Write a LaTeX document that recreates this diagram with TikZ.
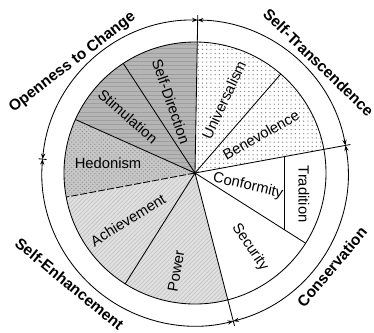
\documentclass[tikz,border=0pt]{standalone}
\usepackage{fontspec}
\setmainfont{Liberation Sans}
\usetikzlibrary{arrows.meta,patterns}

\begin{document}
\begin{tikzpicture}[x=0.025cm, y=0.025cm,
    value/.style={font=\fontsize{10.5}{12}\selectfont, inner sep=0pt},
    higher/.style={font=\bfseries\fontsize{11}{13}\selectfont, inner sep=0pt},
    divider/.style={line width=0.6pt},
    ring/.style={line width=0.6pt, {Stealth[length=4pt,width=3pt]}-{Stealth[length=4pt,width=3pt]}},
    stripes/.style={preaction={fill=black!29}, pattern=horizontal lines, pattern color=black!38},
    speckle/.style={preaction={fill=black!22}, pattern=crosshatch dots, pattern color=black!42},
    hatch/.style={preaction={fill=black!12}, pattern=north east lines, pattern color=black!24},
    dotfill/.style={pattern=dots, pattern color=black!48},
    blank/.style={}]
    \useasboundingbox (-195,-159) rectangle (179,173);

    % sectors of the inner circle
    \foreach \a/\b/\s in {49.1/89/dotfill, 10.4/49.1/dotfill, -32.4/10.4/blank,
                          -75.5/-32.4/blank, -122.2/-75.5/hatch, 190.6/237.8/hatch,
                          155.9/190.6/speckle, 123.2/155.9/stripes, 89/123.2/stripes}
        \path[\s] (0,0) -- (\a:131) arc[start angle=\a, end angle=\b, radius=131] -- cycle;

    % boundaries
    \foreach \a in {49.1, -32.4, 237.8, 155.9, 123.2}
        \draw[divider] (0,0) -- (\a:131);
    \foreach \a in {89, 10.4, -75.5}
        \draw[divider] (0,0) -- (\a:158);
    \draw[divider, dash pattern=on 5pt off 1.5pt] (0,0) -- (190.6:131);
    \draw[divider] (89,16.3) -- (89,-56.5);
    \draw[divider] (0,0) circle[radius=131];
    \fill (0,0) circle[radius=1.5];

    % outer ring
    \draw[ring] (10.4:153) arc[start angle=10.4, end angle=89, radius=153];
    \draw[ring] (89:153) arc[start angle=89, end angle=174.8, radius=153];
    \draw[ring] (174.8:153) arc[start angle=174.8, end angle=284.5, radius=153];
    \draw[ring] (-75.5:153) arc[start angle=-75.5, end angle=10.4, radius=153];
    \draw[divider] (174.8:149) -- (174.8:157);

    % values
    \node[value, rotate=-71] (selfdir) at (-24,71.5) {Self-Direction};
    \node[value, rotate=-41] (stim) at (-67,56.5) {Stimulation};
    \node[value] (hedon) at (-87,10) {Hedonism};
    \node[value, rotate=32] (achieve) at (-67,-47) {Achievement};
    \node[value, rotate=80] (power) at (-19,-98) {Power};
    \node[value, rotate=-56] (secur) at (55,-74) {Security};
    \node[value, rotate=-13] (conform) at (53,-13) {Conformity};
    \node[value, rotate=-90] (trad) at (109,-21) {Tradition};
    \node[value, rotate=30] (benev) at (66,38) {Benevolence};
    \node[value, rotate=65] (univ) at (29,73) {Universalism};

    % higher order values
    \node[higher, rotate=37.5] (open) at (-122.5,110.5) {Openness to Change};
    \node[higher, rotate=-44] (trans) at (123.5,110.5) {Self-Transcendence};
    \node[higher, rotate=50] (conserv) at (137,-94) {Conservation};
    \node[higher, rotate=-39.5] (enhance) at (-125.5,-111) {Self-Enhancement};
\end{tikzpicture}
\end{document}
